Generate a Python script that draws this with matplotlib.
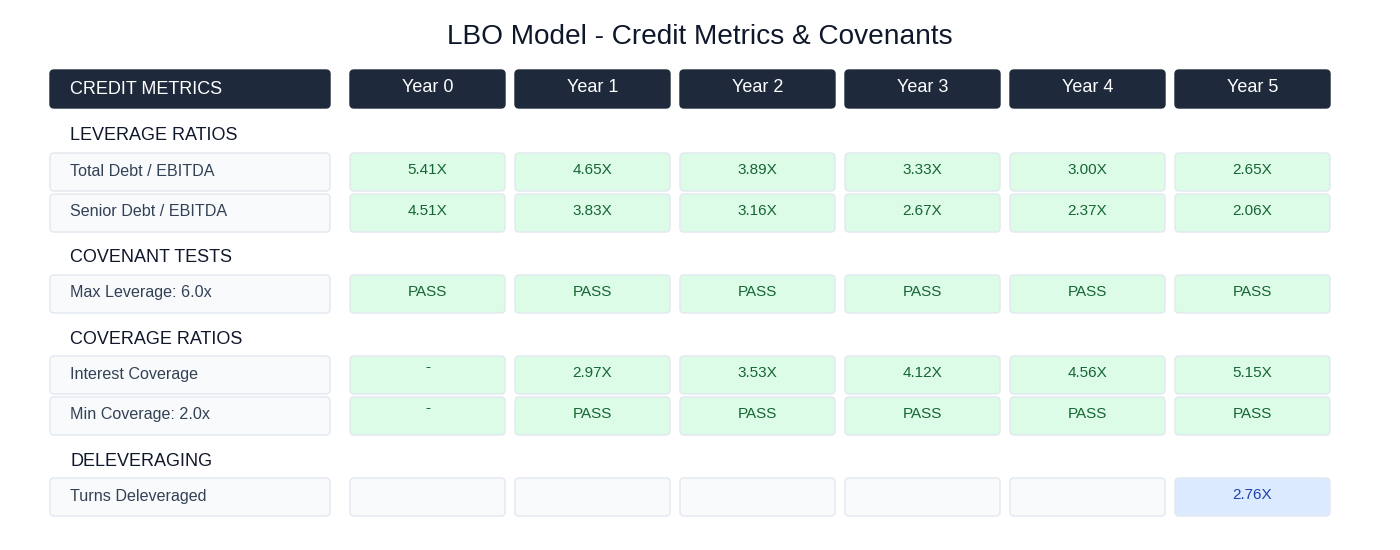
import matplotlib
matplotlib.use('Agg')
import matplotlib.pyplot as plt
from matplotlib.patches import FancyBboxPatch

plt.rcParams['font.family'] = ['Liberation Sans', 'DejaVu Sans']

# dados do modelo
anos = ['Year 0', 'Year 1', 'Year 2', 'Year 3', 'Year 4', 'Year 5']
total_debt_ebitda = [5.41, 4.65, 3.89, 3.33, 3.00, 2.65]
senior_debt_ebitda = [4.51, 3.83, 3.16, 2.67, 2.37, 2.06]
max_leverage = 6.0
interest_coverage = [None, 2.97, 3.53, 4.12, 4.56, 5.15]
min_coverage = 2.0
turns_deleveraged = [None, None, None, None, None, 2.76]

# cores
escuro = '#1e293b'
cinza_bg = '#f8fafc'
borda = '#e2e8f0'
verde_bg = '#dcfce7'
verde_txt = '#166534'
azul_bg = '#dbeafe'
azul_txt = '#1e40af'
label_txt = '#334155'

fig = plt.figure(figsize=(14, 5.5), dpi=100)
ax = fig.add_axes([0, 0, 1, 1])
ax.set_xlim(0, 1400)
ax.set_ylim(550, 0)
ax.axis('off')

label_x0, label_w = 50, 280
col_x0, col_w, col_gap = 350, 155, 10
row_h = 38


def caixa(x, y, w, h, fc, ec):
    ax.add_patch(FancyBboxPatch((x, y), w, h,
                                boxstyle='round,pad=0,rounding_size=4',
                                fc=fc, ec=ec, lw=1))


def col_x(i):
    return col_x0 + i * (col_w + col_gap)


ax.text(700, 37, 'LBO Model - Credit Metrics & Covenants', ha='center', va='center',
        fontsize=20.2, color='#0f172a')

# cabecalho
caixa(label_x0, 70, label_w, row_h, escuro, escuro)
ax.text(70, 89, 'CREDIT METRICS', ha='left', va='center', fontsize=13, color='white')
for i, ano in enumerate(anos):
    caixa(col_x(i), 70, col_w, row_h, escuro, escuro)
    ax.text(col_x(i) + col_w / 2, 88, ano, ha='center', va='center', fontsize=13, color='white')


def secao(y, titulo):
    ax.text(70, y, titulo, ha='left', va='center', fontsize=13, color='#0f172a')


def linha(y, label, valores, fc, tc):
    caixa(label_x0, y, label_w, row_h, cinza_bg, borda)
    ax.text(70, y + 18, label, ha='left', va='center', fontsize=11.6, color=label_txt)
    for i, v in enumerate(valores):
        cor = fc[i] if isinstance(fc, list) else fc
        caixa(col_x(i), y, col_w, row_h, cor, borda)
        if v == '-':
            ax.text(col_x(i) + col_w / 2, y + 11, v, ha='center', va='center', fontsize=11, color=tc)
        elif v:
            ax.text(col_x(i) + col_w / 2, y + 17, v, ha='center', va='center', fontsize=11, color=tc)


def fmt(v):
    return '-' if v is None else f'{v:.2f}X'


secao(136, 'LEVERAGE RATIOS')
linha(153, 'Total Debt / EBITDA', [fmt(v) for v in total_debt_ebitda], verde_bg, verde_txt)
linha(194, 'Senior Debt / EBITDA', [fmt(v) for v in senior_debt_ebitda], verde_bg, verde_txt)

secao(258, 'COVENANT TESTS')
linha(275, f'Max Leverage: {max_leverage:.1f}x',
      ['PASS' if v <= max_leverage else 'FAIL' for v in total_debt_ebitda], verde_bg, verde_txt)

secao(339, 'COVERAGE RATIOS')
linha(356, 'Interest Coverage', [fmt(v) for v in interest_coverage], verde_bg, verde_txt)
linha(397, f'Min Coverage: {min_coverage:.1f}x',
      ['-' if v is None else ('PASS' if v >= min_coverage else 'FAIL') for v in interest_coverage],
      verde_bg, verde_txt)

secao(461, 'DELEVERAGING')
linha(478, 'Turns Deleveraged', ['' if v is None else f'{v:.2f}X' for v in turns_deleveraged],
      [cinza_bg if v is None else azul_bg for v in turns_deleveraged], azul_txt)

fig.savefig('out.png', dpi=100, facecolor='white')
